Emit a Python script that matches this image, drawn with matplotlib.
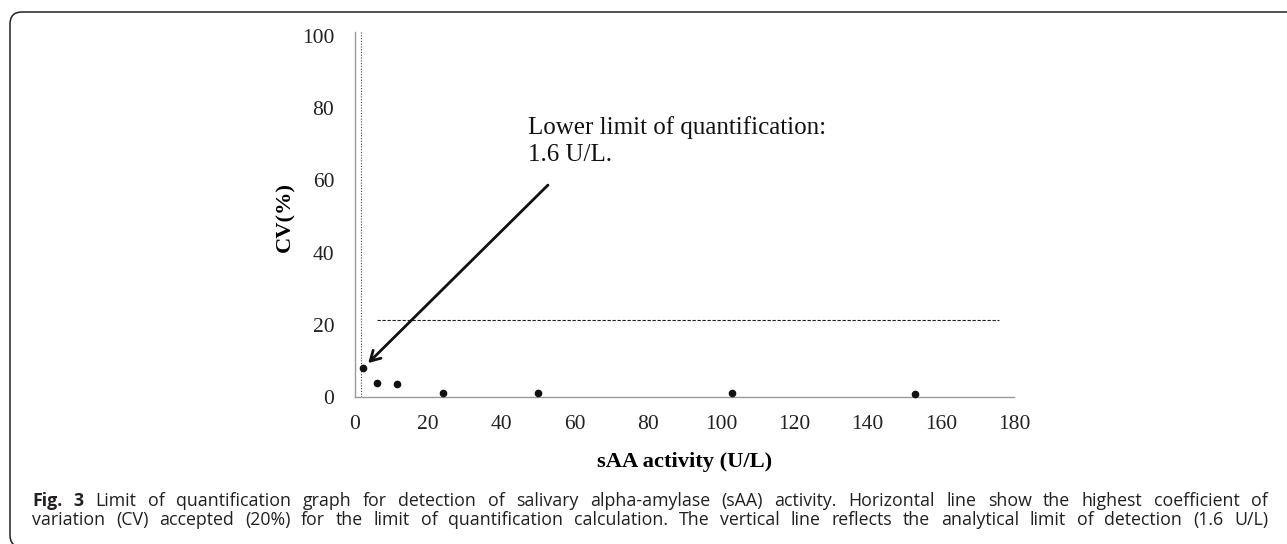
import matplotlib
matplotlib.use("Agg")
import matplotlib.pyplot as plt
from matplotlib.patches import FancyBboxPatch

# ---- data ----
activity = [2.2, 6.0, 11.5, 24.0, 50.0, 103.0, 153.0]   # sAA activity (U/L)
cv = [7.9, 4.0, 3.6, 1.0, 1.0, 1.0, 0.9]                 # CV (%)
lod = 1.6            # analytical limit of detection (U/L)
cv_limit = 21.3      # highest accepted CV line
cv_line_x = [6.0, 176.0]
x_ticks = [0, 20, 40, 60, 80, 100, 120, 140, 160, 180]
y_ticks = [0, 20, 40, 60, 80, 100]
annot_text = "Lower limit of quantification:\n1.6 U/L."
annot_xy = (3.6, 9.4)
annot_from = (52.7, 58.7)
caption_lines = [
    ["Fig.", "3", "Limit", "of", "quantification", "graph", "for", "detection", "of", "salivary",
     "alpha-amylase", "(sAA)", "activity.", "Horizontal", "line", "show", "the", "highest",
     "coefficient", "of"],
    ["variation", "(CV)", "accepted", "(20%)", "for", "the", "limit", "of", "quantification",
     "calculation.", "The", "vertical", "line", "reflects", "the", "analytical", "limit", "of",
     "detection", "(1.6", "U/L)"],
]

W, H, DPI = 1287, 544, 100
fig = plt.figure(figsize=(W / DPI, H / DPI), dpi=DPI)
fig.patch.set_facecolor("white")

serif = ["Liberation Serif", "DejaVu Serif"]

# axes geometry in pixels
x0, x180 = 355, 1014
y0, ypx_per = 397, 3.61
ymax = 101
left = x0 / W
width = (x180 - x0) / W
bottom = (H - y0) / H
height = ymax * ypx_per / H
ax = fig.add_axes([left, bottom, width, height])
ax.set_xlim(0, 180)
ax.set_ylim(0, ymax)

for s in ["top", "right"]:
    ax.spines[s].set_visible(False)
for s in ["left", "bottom"]:
    ax.spines[s].set_color("#9a9a9a")
    ax.spines[s].set_linewidth(1.0)

ax.set_xticks(x_ticks)
ax.set_yticks(y_ticks)
ax.tick_params(length=0, labelsize=15.5, colors="#222222", pad=13)
ax.tick_params(axis="y", pad=15)
for lab in ax.get_xticklabels() + ax.get_yticklabels():
    lab.set_fontfamily(serif)

# vertical LOD line
ax.plot([lod, lod], [0, ymax], color="#444444", lw=0.8, ls=(0, (1, 1.5)), zorder=2)
# horizontal CV limit line
ax.plot(cv_line_x, [cv_limit, cv_limit], color="#222222", lw=0.8, ls=(0, (3, 1.5)), zorder=2)

# data points
ax.plot(activity, cv, "o", color="#111111", ms=4.5, zorder=3, clip_on=False)

# annotation
ax.annotate("", xy=annot_xy, xytext=annot_from,
            arrowprops=dict(arrowstyle="->,head_length=0.7,head_width=0.4",
                            color="#111111", lw=2.0, shrinkA=0, shrinkB=0))
ax.text(47.3, 77.8, annot_text, fontfamily=serif, fontsize=18, color="#111111",
        ha="left", va="top", linespacing=1.3)

ax.set_xlabel("sAA activity (U/L)", fontfamily=serif, fontsize=16.2, fontweight="bold")
ax.xaxis.set_label_coords(0.5, -(452 - y0) / (ymax * ypx_per))
ax.set_ylabel("CV(%)", fontfamily=serif, fontsize=16.2, fontweight="bold")
ax.yaxis.set_label_coords(-(x0 - 285) / (x180 - x0), (y0 - 217) / (ymax * ypx_per))
ax.yaxis.label.set_verticalalignment("center")
ax.yaxis.label.set_horizontalalignment("center")

# frame
frame = FancyBboxPatch((0.10, -0.03), 13.3, 5.32 + 0.03,
                       boxstyle="round,pad=0,rounding_size=0.12",
                       transform=fig.dpi_scale_trans, fill=False,
                       edgecolor="#222222", lw=1.1)
fig.add_artist(frame)

# caption, justified
cap_font = ["Open Sans", "DejaVu Sans"]
cap_size = 12.8
cap_left, cap_right = 32, 1268
line_y = [500.7, 520.0]
renderer = fig.canvas.get_renderer()
for li, (words, ypx) in enumerate(zip(caption_lines, line_y)):
    texts = []
    for i, w in enumerate(words):
        bold = (li == 0 and i < 2)
        t = fig.text(0, 1 - ypx / H, w, fontfamily=cap_font, fontsize=cap_size,
                     fontweight="bold" if bold else "normal", color="#231f20",
                     ha="left", va="center")
        texts.append(t)
    widths = [t.get_window_extent(renderer).width for t in texts]
    gap = (cap_right - cap_left - sum(widths)) / (len(words) - 1)
    xpos = cap_left
    for t, wd in zip(texts, widths):
        t.set_x(xpos / W)
        xpos += wd + gap

fig.savefig("out.png", dpi=DPI, facecolor="white")
